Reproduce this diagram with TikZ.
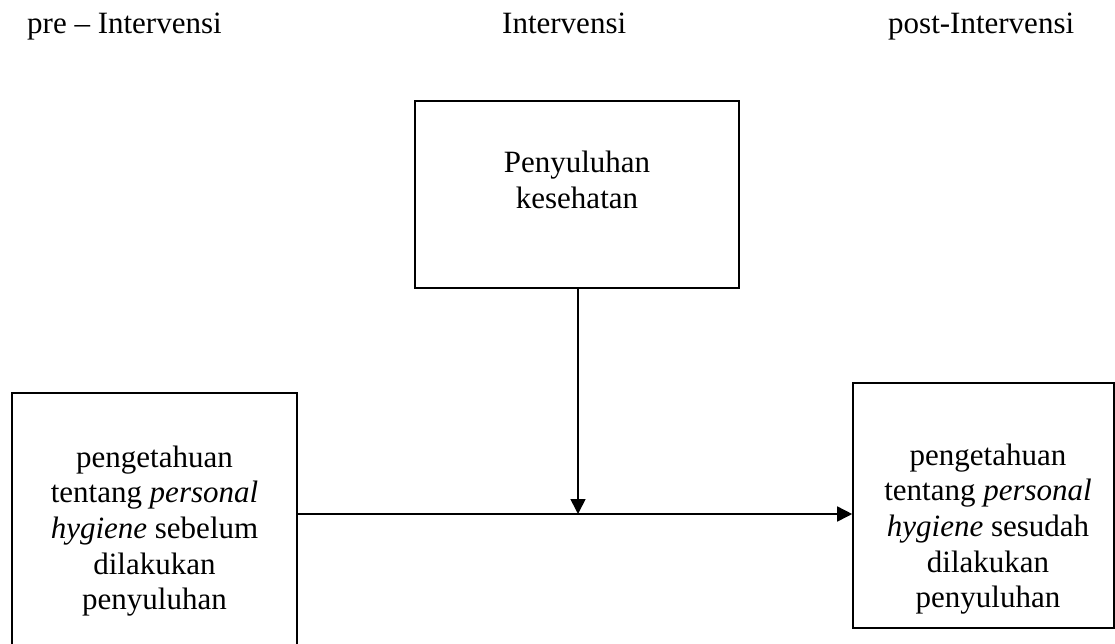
\documentclass[tikz,border=0pt]{standalone}
\usepackage{fontspec}
\setmainfont{Liberation Serif}
\usetikzlibrary{arrows.meta}
\tikzset{
  boxnode/.style={draw=black, line width=1.6pt, rectangle, inner sep=0pt},
  txt/.style={inner sep=0pt, align=center, font=\fontsize{31}{35.6}\selectfont},
  lbl/.style={inner sep=0pt, anchor=base west, font=\fontsize{31}{35.6}\selectfont},
  conn/.style={line width=1.6pt, -{Triangle[length=15pt,width=15pt]}}
}
\begin{document}
\begin{tikzpicture}[x=1pt,y=-1pt]
\clip (0,0) rectangle (1115,643);
\fill[white] (0,0) rectangle (1115,643);
% phase labels
\node[lbl] (lpre) at (27,33) {pre – Intervensi};
\node[lbl] (lint) at (502,33) {Intervensi};
\node[lbl] (lpost) at (888,33) {post-Intervensi};
% boxes
\node[boxnode, minimum width=324pt, minimum height=187pt] (top) at (577,194.5) {};
\node[boxnode, minimum width=285pt, minimum height=262pt] (left) at (154.5,524) {};
\node[boxnode, minimum width=261pt, minimum height=245pt] (right) at (983.5,505.5) {};
% texts
\node[txt] (toptext) at (577,180) {Penyuluhan\\kesehatan};
\node[txt] (lefttext) at (154.5,531) {pengetahuan\\tentang \textit{personal}\\\textit{hygiene} sebelum\\dilakukan\\penyuluhan};
\node[txt] (righttext) at (988,529) {pengetahuan\\tentang \textit{personal}\\\textit{hygiene} sesudah\\dilakukan\\penyuluhan};
% connectors
\coordinate (j) at (578,514);
\draw[conn] (j -| left.east) -- (j -| right.west);
\draw[conn] (top.south -| j) -- (j);
\end{tikzpicture}
\end{document}
